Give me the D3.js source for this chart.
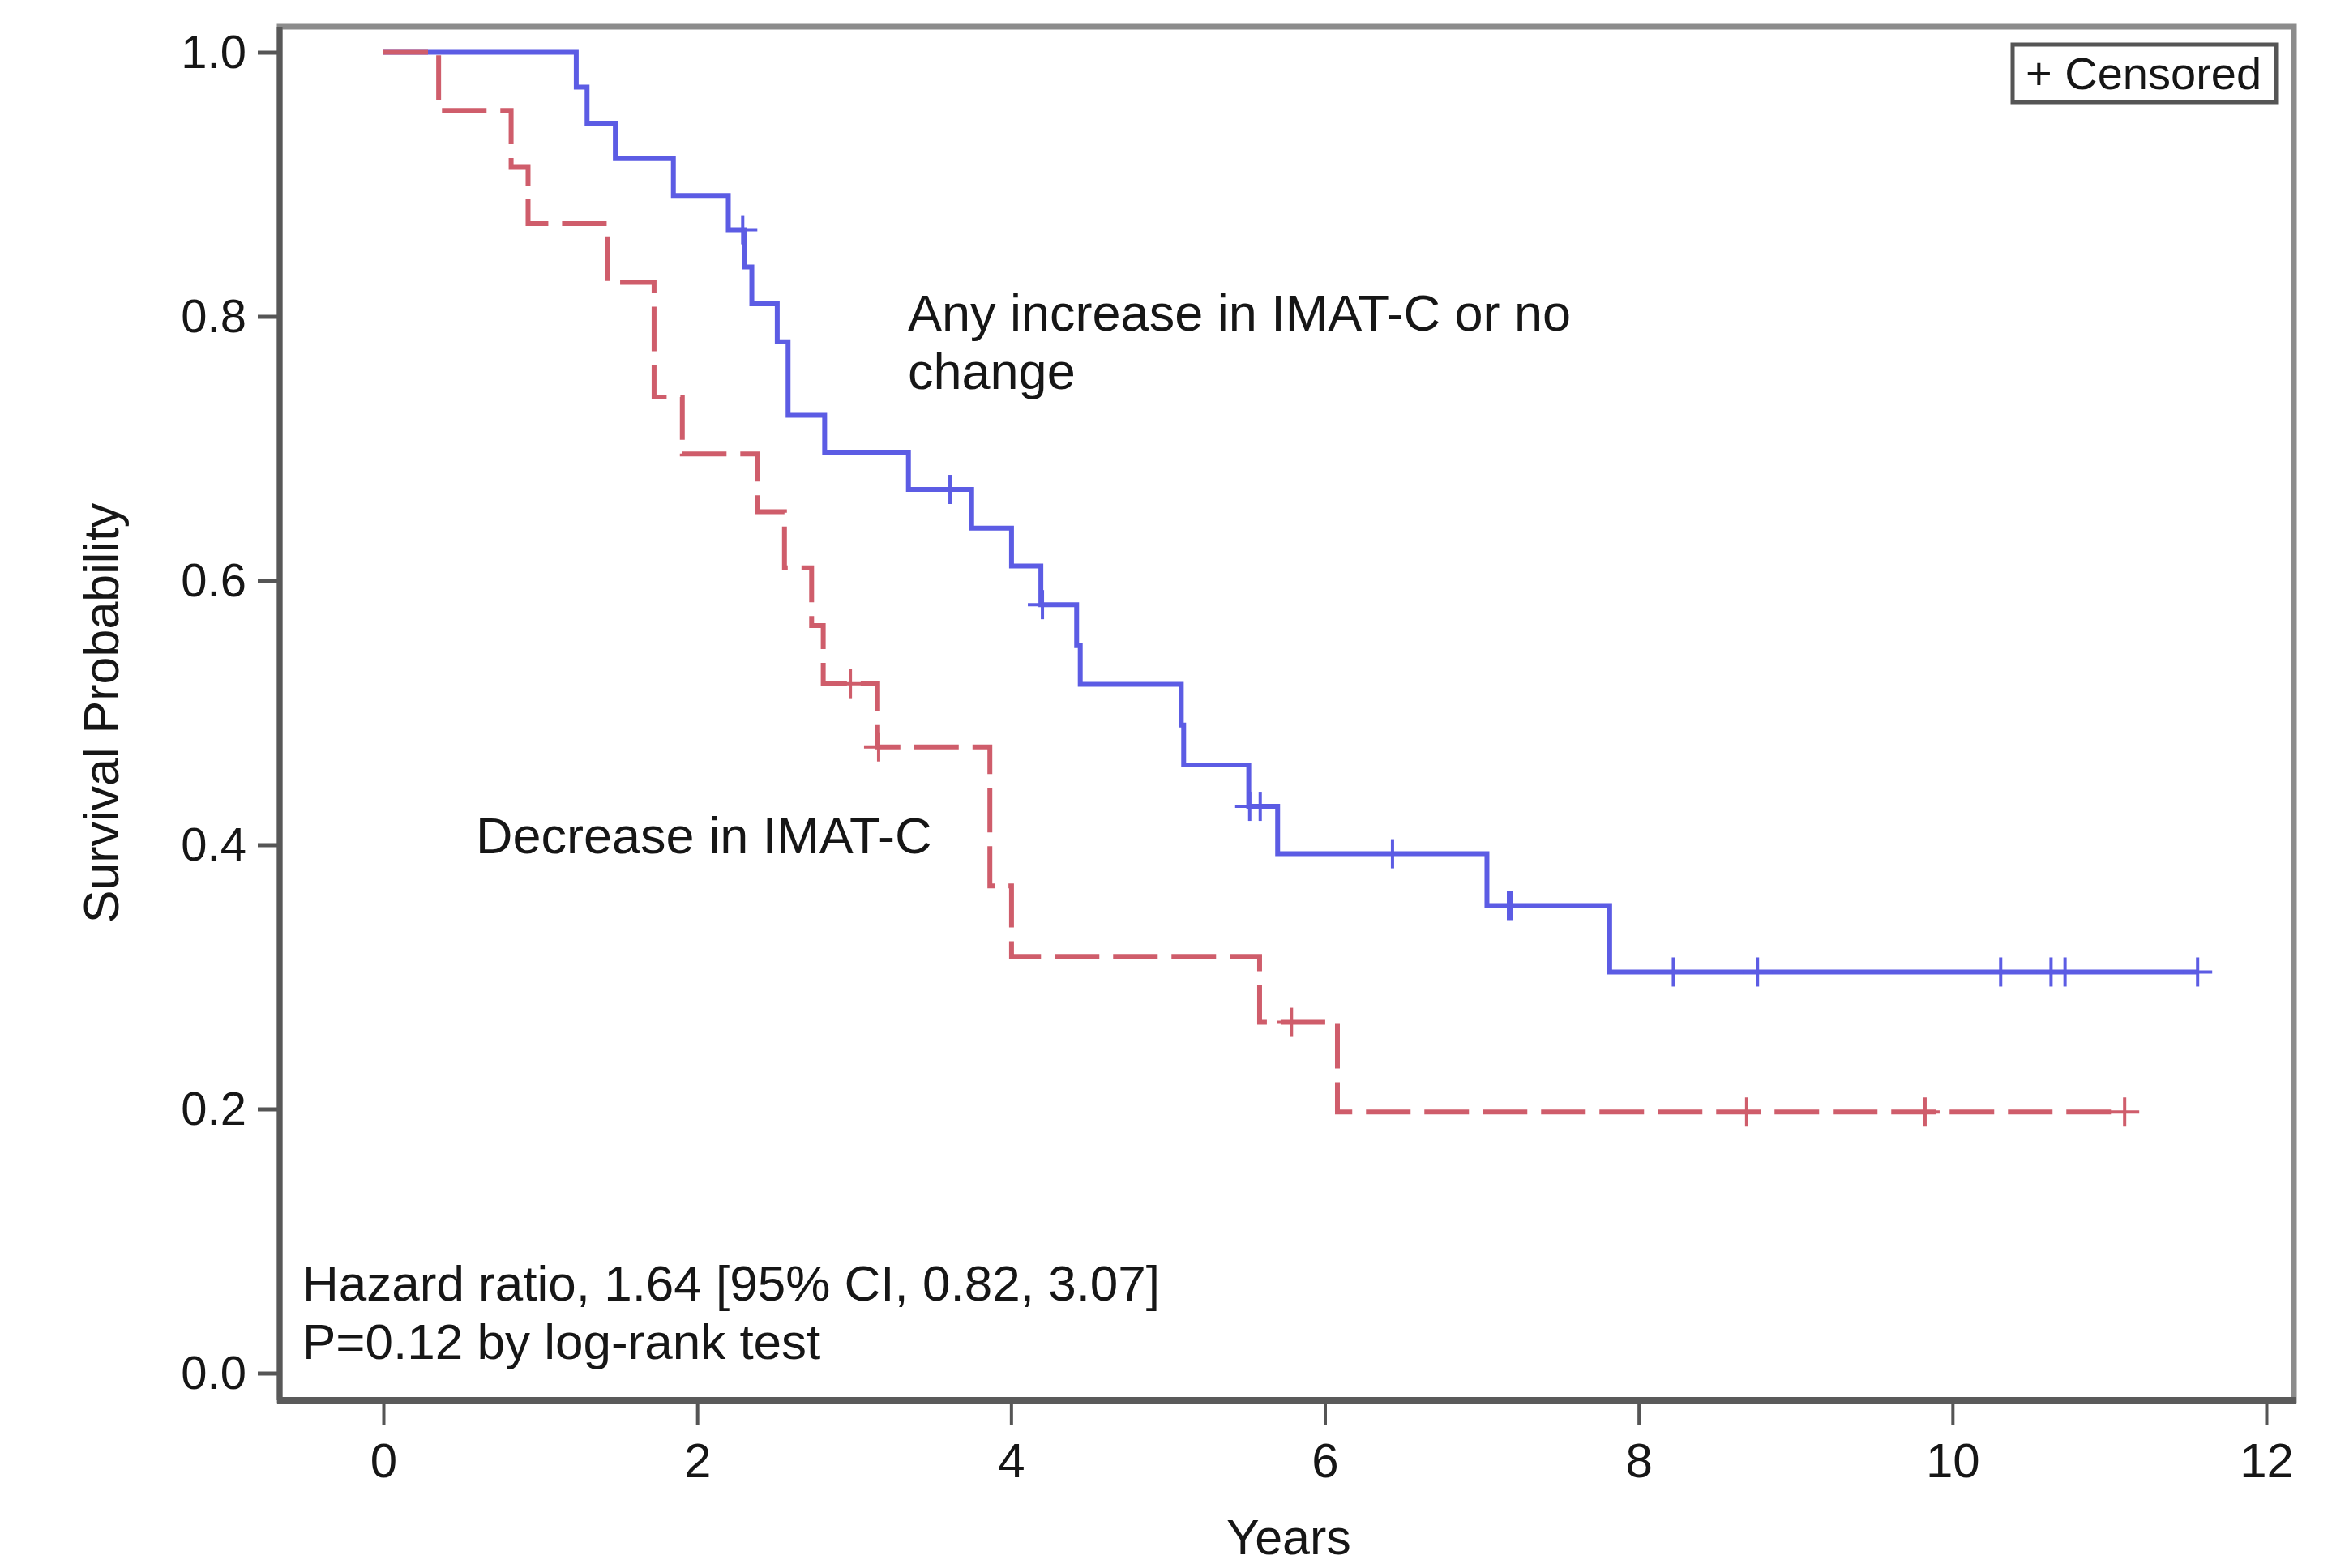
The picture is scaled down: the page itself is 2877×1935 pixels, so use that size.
<!DOCTYPE html>
<html>
<head>
<meta charset="utf-8">
<script src="https://cdn.jsdelivr.net/npm/d3@7"></script>
<style>
  html, body { margin: 0; padding: 0; background: #ffffff; }
  svg { display: block; }
  text { font-family: "Liberation Sans", Arial, Helvetica, sans-serif; fill: #161616; }
</style>
</head>
<body>
<svg id="chart" width="2877" height="1935"></svg>
<script>
// ---------------- data ----------------
const xTicks = [0, 2, 4, 6, 8, 10, 12];
const yTicks = [0.0, 0.2, 0.4, 0.6, 0.8, 1.0];

// "Any increase in IMAT-C or no change" group (blue, solid)
const blueEventTimes = [1.229, 1.298, 1.478, 1.848, 2.198, 2.300, 2.348, 2.510, 2.579, 2.812,
                        3.346, 3.749, 4.003, 4.190, 4.418, 4.441, 5.085, 5.100, 5.515, 5.699,
                        7.033, 7.815];
const blueEventSurv  = [0.9736, 0.9463, 0.9195, 0.8916, 0.8656, 0.8374, 0.8095, 0.7808, 0.7252, 0.6973,
                        0.6690, 0.6397, 0.6110, 0.5818, 0.5508, 0.5215, 0.4907, 0.4605, 0.4291, 0.3932,
                        0.3540, 0.3037];
const blueCensorTimes = [2.290, 3.611, 4.200, 5.521, 5.588, 6.431, 7.170, 7.190, 8.221, 8.757,
                         10.307, 10.628, 10.717, 11.562];
const blueEndTime = 11.562;

// "Decrease in IMAT-C" group (red, dashed)
const redEventTimes = [0.352, 0.814, 0.922, 1.430, 1.725, 1.905, 2.383, 2.556, 2.729, 2.803,
                       3.150, 3.865, 4.003, 5.584, 6.080];
const redEventSurv  = [0.9560, 0.9129, 0.8702, 0.8258, 0.7389, 0.6959, 0.6522, 0.6097, 0.5660, 0.5220,
                       0.4741, 0.3688, 0.3155, 0.2656, 0.1977];
const redCensorTimes = [2.976, 3.156, 5.787, 8.688, 9.825, 11.097];
const redEndTime = 11.097;

const groupLabels = ["Any increase in IMAT-C or no", "change"];
const redLabel = "Decrease in IMAT-C";
const statsLines = ["Hazard ratio, 1.64 [95% CI, 0.82, 3.07]", "P=0.12 by log-rank test"];
const legendLabel = "+ Censored";
const xTitle = "Years";
const yTitle = "Survival Probability";

// ---------------- layout ----------------
const svg = d3.select("#chart");
const frame = { left: 345, right: 2830, top: 33, bottom: 1728 };
const x = d3.scaleLinear().domain([0, 12]).range([473, 2796]);
const y = d3.scaleLinear().domain([0, 1]).range([1694.5, 64.5]);

const BLUE = "#5c5ce4";
const RED = "#cf5d6b";

svg.append("rect").attr("x", 0).attr("y", 0).attr("width", 2877).attr("height", 1935).attr("fill", "#ffffff");

// frame
svg.append("rect")
  .attr("x", frame.left).attr("y", frame.top)
  .attr("width", frame.right - frame.left).attr("height", frame.bottom - frame.top)
  .attr("fill", "none").attr("stroke", "#8c8c8c").attr("stroke-width", 7);

// y axis
const yAxis = svg.append("g").attr("transform", `translate(${frame.left},0)`)
  .call(d3.axisLeft(y).tickValues(yTicks).tickFormat(d3.format(".1f")).tickSize(27).tickPadding(14));
yAxis.select(".domain").remove();
yAxis.selectAll(".tick line").attr("stroke", "#555").attr("stroke-width", 5);
yAxis.selectAll(".tick text").attr("font-size", 58)
  .attr("font-family", "Liberation Sans, Arial, sans-serif").attr("fill", "#161616");

// x axis
const xAxis = svg.append("g").attr("transform", `translate(0,${frame.bottom})`)
  .call(d3.axisBottom(x).tickValues(xTicks).tickFormat(d3.format("d")).tickSize(30).tickPadding(22));
xAxis.select(".domain").remove();
xAxis.selectAll(".tick line").attr("stroke", "#555").attr("stroke-width", 4);
xAxis.selectAll(".tick text").attr("font-size", 60)
  .attr("font-family", "Liberation Sans, Arial, sans-serif").attr("fill", "#161616");

// darker axis lines (left and bottom)
svg.append("line").attr("x1", frame.left).attr("x2", frame.left)
  .attr("y1", frame.top).attr("y2", frame.bottom)
  .attr("stroke", "#585858").attr("stroke-width", 7);
svg.append("line").attr("x1", frame.left - 3).attr("x2", frame.right + 3)
  .attr("y1", frame.bottom).attr("y2", frame.bottom)
  .attr("stroke", "#5a5a5a").attr("stroke-width", 8);

// ---------------- curves ----------------
function stepPoints(times, surv, endTime) {
  const pts = [[0, 1]];
  times.forEach((t, i) => pts.push([t, surv[i]]));
  pts.push([endTime, surv[surv.length - 1]]);
  return pts;
}
function survAt(times, surv, t) {
  let s = 1;
  times.forEach((tt, i) => { if (tt <= t) s = surv[i]; });
  return s;
}
const line = d3.line().x(d => x(d[0])).y(d => y(d[1])).curve(d3.curveStepAfter);

function drawGroup(times, surv, censorTimes, endTime, color, dash) {
  const g = svg.append("g");
  g.append("path")
    .datum(stepPoints(times, surv, endTime))
    .attr("d", line)
    .attr("fill", "none")
    .attr("stroke", color)
    .attr("stroke-width", 6)
    .attr("stroke-dasharray", dash)
    .attr("stroke-linejoin", "miter");
  const half = 18;
  const cens = g.selectAll("g.cens").data(censorTimes).join("g").attr("class", "cens")
    .attr("transform", t => `translate(${x(t)},${y(survAt(times, surv, t))})`);
  cens.append("line").attr("x1", -half).attr("x2", half).attr("y1", 0).attr("y2", 0)
    .attr("stroke", color).attr("stroke-width", 4);
  cens.append("line").attr("x1", 0).attr("x2", 0).attr("y1", -half).attr("y2", half)
    .attr("stroke", color).attr("stroke-width", 4);
}
drawGroup(blueEventTimes, blueEventSurv, blueCensorTimes, blueEndTime, BLUE, null);
drawGroup(redEventTimes, redEventSurv, redCensorTimes, redEndTime, RED, "55,17");

// ---------------- texts ----------------
svg.append("text").attr("x", 1120).attr("y", 408).attr("font-size", 63).text(groupLabels[0]);
svg.append("text").attr("x", 1120).attr("y", 480).attr("font-size", 63).text(groupLabels[1]);
svg.append("text").attr("x", 587).attr("y", 1053).attr("font-size", 63).text(redLabel);
svg.append("text").attr("x", 373).attr("y", 1605).attr("font-size", 62).text(statsLines[0]);
svg.append("text").attr("x", 373).attr("y", 1677).attr("font-size", 62).text(statsLines[1]);

// axis titles
svg.append("text").attr("x", 1590).attr("y", 1918).attr("font-size", 61)
  .attr("text-anchor", "middle").text(xTitle);
svg.append("text").attr("transform", "translate(146,880) rotate(-90)")
  .attr("font-size", 61).attr("text-anchor", "middle").text(yTitle);

// legend
svg.append("rect").attr("x", 2483).attr("y", 55).attr("width", 325).attr("height", 71)
  .attr("fill", "#ffffff").attr("stroke", "#555").attr("stroke-width", 5);
svg.append("text").attr("x", 2499).attr("y", 110).attr("font-size", 56).text(legendLabel);
</script>
</body>
</html>
